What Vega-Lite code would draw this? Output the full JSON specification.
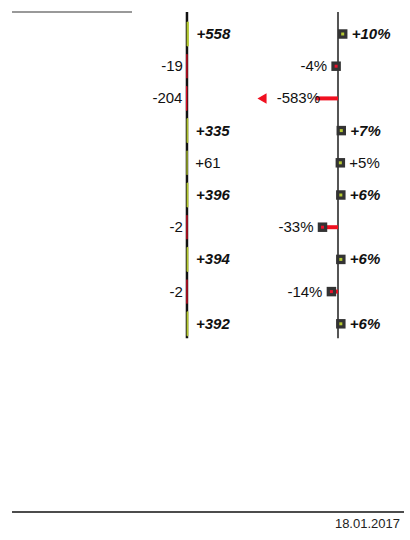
{
  "$schema": "https://vega.github.io/schema/vega-lite/v6.json",
  "description": "Absolute and relative variance per item, IBCS style",
  "width": 410,
  "height": 540,
  "autosize": "none",
  "padding": 0,
  "config": {
    "view": {"stroke": null},
    "text": {"font": "Liberation Sans", "fontSize": 15, "baseline": "middle", "color": "#111"},
    "locale": {"number": {"decimal": ".", "thousands": ",", "grouping": [3], "currency": ["$", ""], "minus": "-"}}
  },
  "datasets": {
    "items": [
      {"row": 0, "abs": 558, "rel": 0.10},
      {"row": 1, "abs": -19, "rel": -0.04},
      {"row": 2, "abs": -204, "rel": -5.83},
      {"row": 3, "abs": 335, "rel": 0.07},
      {"row": 4, "abs": 61, "rel": 0.05},
      {"row": 5, "abs": 396, "rel": 0.06},
      {"row": 6, "abs": -2, "rel": -0.33},
      {"row": 7, "abs": 394, "rel": 0.06},
      {"row": 8, "abs": -2, "rel": -0.14},
      {"row": 9, "abs": 392, "rel": 0.06}
    ],
    "frame": [
      {"part": "header", "abs": -65500, "abs_end": -20580, "row": -0.683},
      {"part": "footer", "abs": -65500, "abs_end": 81250, "row": 14.845}
    ],
    "axes": [
      {"abs": 0, "rel": 0, "row": -0.68, "row_end": 9.45}
    ],
    "notes": [
      {"abs": 79750, "row": 15.22, "date": "18.01.2017"}
    ]
  },
  "data": {"name": "items"},
  "encoding": {
    "y": {
      "field": "row",
      "type": "quantitative",
      "scale": {"domain": [-1.056, 15.714], "reverse": true, "nice": false, "zero": false, "padding": 0},
      "axis": null
    }
  },
  "layer": [
    {
      "encoding": {
        "x": {"field": "abs", "type": "quantitative", "scale": {"domain": [-70000, 83500], "nice": false, "zero": false, "padding": 0}, "axis": null}
      },
      "layer": [
        {
          "data": {"name": "axes"},
          "mark": {"type": "rule", "color": "#111", "strokeWidth": 2.5},
          "encoding": {"y2": {"field": "row_end"}}
        },
        {
          "mark": {"type": "bar", "orient": "horizontal", "height": 24, "strokeWidth": 0.8},
          "encoding": {
            "x2": {"datum": 0},
            "color": {
              "condition": {"test": "datum.abs < 0", "value": "#e8102a"},
              "value": "#b4c832"
            },
            "stroke": {
              "condition": {"test": "datum.abs < 0", "value": "#e8102a"},
              "value": "#b4c832"
            }
          }
        },
        {
          "transform": [{"filter": "datum.abs > 100"}],
          "mark": {"type": "text", "align": "left", "dx": 8, "fontWeight": "bold", "fontStyle": "italic"},
          "encoding": {"text": {"field": "abs", "type": "quantitative", "format": "+d"}}
        },
        {
          "transform": [{"filter": "datum.abs > 0 && datum.abs <= 100"}],
          "mark": {"type": "text", "align": "left", "dx": 8},
          "encoding": {"text": {"field": "abs", "type": "quantitative", "format": "+d"}}
        },
        {
          "transform": [{"filter": "datum.abs < 0"}],
          "mark": {"type": "text", "align": "right", "dx": -4},
          "encoding": {"text": {"field": "abs", "type": "quantitative", "format": "d"}}
        },
        {
          "data": {"name": "frame"},
          "mark": {"type": "rule", "strokeWidth": 1.4},
          "encoding": {
            "x2": {"field": "abs_end"},
            "color": {
              "condition": {"test": "datum.part == 'header'", "value": "#777"},
              "value": "#111"
            }
          }
        },
        {
          "data": {"name": "notes"},
          "mark": {"type": "text", "align": "right", "fontSize": 13, "color": "#222"},
          "encoding": {"text": {"field": "date"}}
        }
      ]
    },
    {
      "encoding": {
        "x": {"field": "rel", "type": "quantitative", "scale": {"domain": [-0.468, 1.532], "range": [316, 410], "clamp": true, "nice": false, "zero": false, "padding": 0}, "axis": null}
      },
      "layer": [
        {
          "data": {"name": "axes"},
          "mark": {"type": "rule", "color": "#555", "strokeWidth": 2},
          "encoding": {"y2": {"field": "row_end"}}
        },
        {
          "mark": {"type": "rule", "strokeWidth": 4},
          "encoding": {
            "x2": {"datum": 0},
            "color": {
              "condition": {"test": "datum.rel < 0", "value": "#f01020"},
              "value": "#b4c832"
            }
          }
        },
        {
          "transform": [{"filter": "datum.rel >= -0.46"}],
          "mark": {"type": "point", "shape": "square", "filled": true, "size": 90, "opacity": 1, "color": "#333"}
        },
        {
          "transform": [{"filter": "datum.rel >= -0.46"}],
          "mark": {"type": "point", "shape": "square", "filled": true, "size": 9, "opacity": 1},
          "encoding": {
            "color": {
              "condition": {"test": "datum.rel < 0", "value": "#e8102a"},
              "value": "#b4c832"
            }
          }
        },
        {
          "transform": [{"filter": "datum.rel < -0.46"}],
          "mark": {"type": "point", "shape": "triangle-left", "filled": true, "size": 110, "opacity": 1, "color": "#f01020", "xOffset": -54}
        },
        {
          "transform": [{"filter": "datum.rel > 0 && datum.abs > 100"}],
          "mark": {"type": "text", "align": "left", "dx": 9, "fontWeight": "bold", "fontStyle": "italic"},
          "encoding": {"text": {"field": "rel", "type": "quantitative", "format": "+.0%"}}
        },
        {
          "transform": [{"filter": "datum.rel > 0 && datum.abs <= 100"}],
          "mark": {"type": "text", "align": "left", "dx": 9},
          "encoding": {"text": {"field": "rel", "type": "quantitative", "format": "+.0%"}}
        },
        {
          "transform": [{"filter": "datum.rel < 0 && datum.rel >= -0.46"}],
          "mark": {"type": "text", "align": "right", "dx": -9},
          "encoding": {"text": {"field": "rel", "type": "quantitative", "format": ".0%"}}
        },
        {
          "transform": [{"filter": "datum.rel < -0.46"}],
          "mark": {"type": "text", "align": "right", "dx": 4},
          "encoding": {"text": {"field": "rel", "type": "quantitative", "format": ".0%"}}
        }
      ]
    }
  ],
  "resolve": {"scale": {"x": "independent"}}
}
